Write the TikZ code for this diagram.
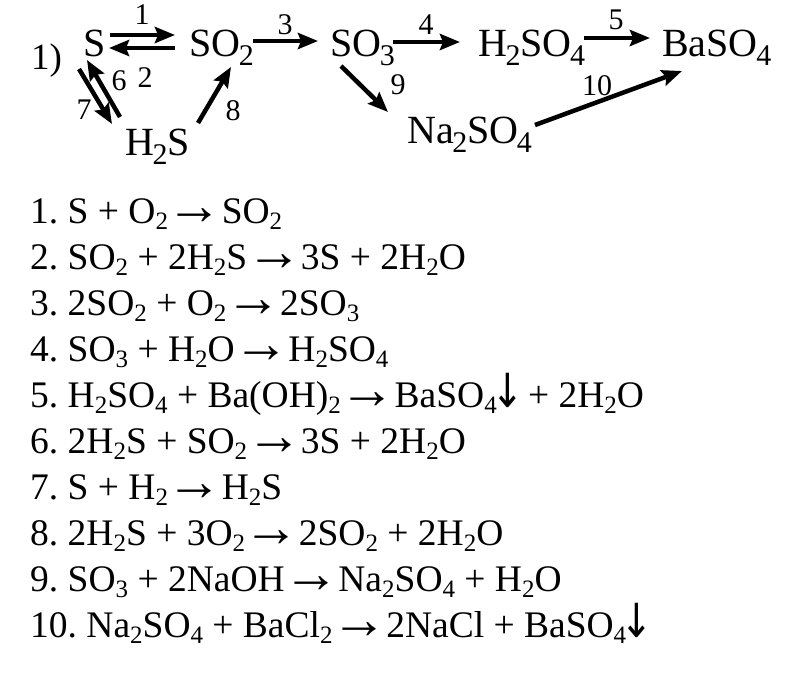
\documentclass[tikz,border=0pt]{standalone}
\usepackage{fontspec}
\usepackage{graphicx}
\setmainfont{Liberation Serif}
\newfontfamily\arrowfont{DejaVu Sans}
\usetikzlibrary{arrows.meta}
\frenchspacing
\newcommand\tsb[1]{\kern-1.5pt\raisebox{-9pt}{\fontsize{30pt}{30pt}\selectfont #1}}
\newcommand\esb[1]{\raisebox{-6pt}{\fontsize{25pt}{25pt}\selectfont #1}}
\newcommand\rarr{\makebox[35pt]{\raisebox{-1pt}{\fontsize{56pt}{56pt}\selectfont →}}}
\newcommand\darr{\makebox[22pt]{\raisebox{0pt}{\scalebox{.83}[1]{\fontsize{47pt}{47pt}\arrowfont ↓}}}}
\tikzset{
  x=1pt,y=-1pt,
  chem/.style={inner sep=0pt,anchor=base west,font=\fontsize{40pt}{40pt}\selectfont},
  num/.style={inner sep=0pt,anchor=center,font=\fontsize{30pt}{30pt}\selectfont},
  eq/.style={inner sep=0pt,anchor=base west,font=\fontsize{37.5pt}{37.5pt}\selectfont},
  conn/.style={line width=4.5pt,-{Stealth[length=20pt,width=16pt,inset=3pt]}}
}
\begin{document}
\begin{tikzpicture}
\useasboundingbox (0,0) rectangle (795,675);
\fill[white] (0,0) rectangle (795,675);
\node[inner sep=0pt,anchor=base west,font=\fontsize{37pt}{37pt}\selectfont] (one) at (31,69) {1)};
\node[chem] (S) at (83,56) {S};
\node[chem] (SOb) at (189,56) {SO\tsb{2}};
\node[chem] (SOc) at (330,56) {SO\tsb{3}};
\node[chem] (HSO) at (478,56) {H\tsb{2}SO\tsb{4}};
\node[chem] (Ba) at (662,56) {BaSO\tsb{4}};
\node[chem] (HS) at (125,155) {H\tsb{2}S};
\node[chem] (Na) at (407,143) {Na\tsb{2}SO\tsb{4}};
\draw[conn] ([shift={(27,-21)}]S.base west) -- ([shift={(-14,-21)}]SOb.base west);
\draw[conn] ([shift={(-14,-8)}]SOb.base west) -- ([shift={(26,-8)}]S.base west);
\draw[conn] ([shift={(64,-15)}]SOb.base west) -- ([shift={(-12,-15)}]SOc.base west);
\draw[conn] ([shift={(63,-14)}]SOc.base west) -- ([shift={(-18,-14)}]HSO.base west);
\draw[conn] ([shift={(106,-18)}]HSO.base west) -- ([shift={(-12,-18)}]Ba.base west);
\draw[conn] ([shift={(-5,-38)}]HS.base west) -- ([shift={(4,4)}]S.base west);
\draw[conn] ([shift={(-4,13)}]S.base west) -- ([shift={(-13,-31)}]HS.base west);
\draw[conn] ([shift={(73,-32)}]HS.base west) -- ([shift={(42,11)}]SOb.base west);
\draw[conn] ([shift={(11,10)}]SOc.base west) -- ([shift={(-19,-31)}]Na.base west);
\draw[conn] ([shift={(128,-18)}]Na.base west) -- ([shift={(20,15)}]Ba.base west);
\node[num] (n1) at (142,15) {1};
\node[num] (n2) at (145,78) {2};
\node[num] (n3) at (285,25) {3};
\node[num] (n4) at (426,25) {4};
\node[num] (n5) at (616,20) {5};
\node[num] (n6) at (119,81) {6};
\node[num] (n7) at (84,110) {7};
\node[num] (n8) at (233,111) {8};
\node[num] (n9) at (398,85) {9};
\node[num] (n10) at (597,86) {10};
\node[eq] (e1) at (30,223) {1. S + O\esb{2} \rarr{} SO\esb{2}};
\node[eq] (e2) at (30,269) {2. SO\esb{2} + 2H\esb{2}S \rarr{} 3S + 2H\esb{2}O};
\node[eq] (e3) at (30,315) {3. 2SO\esb{2} + O\esb{2} \rarr{} 2SO\esb{3}};
\node[eq] (e4) at (30,361) {4. SO\esb{3} + H\esb{2}O \rarr{} H\esb{2}SO\esb{4}};
\node[eq] (e5) at (30,407) {5. H\esb{2}SO\esb{4} + Ba(OH)\esb{2} \rarr{} BaSO\esb{4}\darr{} + 2H\esb{2}O};
\node[eq] (e6) at (30,453) {6. 2H\esb{2}S + SO\esb{2} \rarr{} 3S + 2H\esb{2}O};
\node[eq] (e7) at (30,499) {7. S + H\esb{2} \rarr{} H\esb{2}S};
\node[eq] (e8) at (30,545) {8. 2H\esb{2}S + 3O\esb{2} \rarr{} 2SO\esb{2} + 2H\esb{2}O};
\node[eq] (e9) at (30,591) {9. SO\esb{3} + 2NaOH \rarr{} Na\esb{2}SO\esb{4} + H\esb{2}O};
\node[eq] (e10) at (30,637) {10. Na\esb{2}SO\esb{4} + BaCl\esb{2} \rarr{} 2NaCl + BaSO\esb{4}\darr{}};
\end{tikzpicture}
\end{document}
